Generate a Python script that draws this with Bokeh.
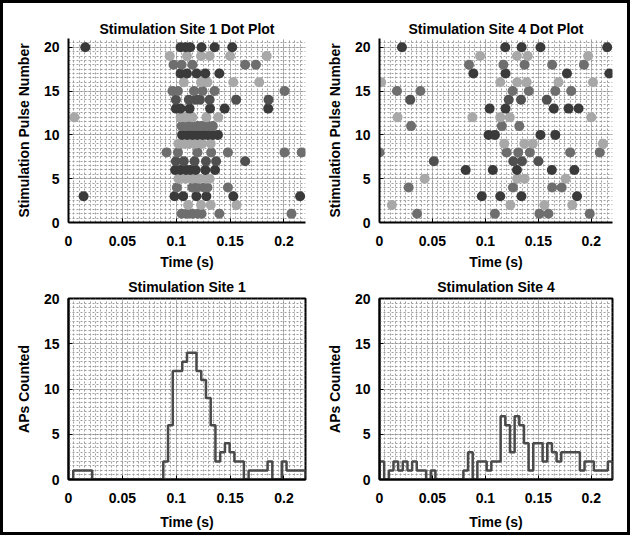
import numpy as np
from bokeh.plotting import figure
from bokeh.layouts import column, row
from bokeh.models import FixedTicker, Range1d, NumeralTickFormatter
from bokeh.embed import file_html
from bokeh.resources import INLINE

# ---------------- data ----------------
# spike times (s) for each stimulation pulse (index 0 -> pulse 1)
site1_times = [
    [0.105, 0.110, 0.115, 0.120, 0.1235, 0.140, 0.207],            # 1
    [0.111, 0.123, 0.132, 0.156],                                   # 2
    [0.014, 0.0984, 0.1064, 0.1187, 0.128, 0.153, 0.215],           # 3
    [0.1006, 0.115, 0.1197, 0.126, 0.129, 0.148],                   # 4
    [0.102, 0.1086, 0.115, 0.121, 0.1276, 0.131],                   # 5
    [0.099, 0.104, 0.109, 0.113, 0.118, 0.127, 0.136],              # 6
    [0.0997, 0.107, 0.117, 0.1276, 0.137, 0.164],                   # 7
    [0.091, 0.1016, 0.1197, 0.1324, 0.148, 0.2006, 0.2165],         # 8
    [0.102, 0.107, 0.112, 0.118, 0.124, 0.132],                     # 9
    [0.1054, 0.1102, 0.115, 0.1197, 0.1245, 0.1292, 0.134, 0.1387], # 10
    [0.105, 0.110, 0.115, 0.120, 0.124, 0.129, 0.134],              # 11
    [0.0054, 0.104, 0.1086, 0.115, 0.128, 0.139],                   # 12
    [0.0997, 0.104, 0.1124, 0.1314, 0.145, 0.1854],                 # 13
    [0.0997, 0.1117, 0.118, 0.122, 0.131, 0.1556, 0.1857],          # 14
    [0.0965, 0.1016, 0.1165, 0.1244, 0.1356, 0.2006],               # 15
    [0.107, 0.123, 0.129, 0.153, 0.177],                            # 16
    [0.104, 0.110, 0.119, 0.127, 0.140],                            # 17
    [0.0975, 0.105, 0.115, 0.164, 0.174],                           # 18
    [0.094, 0.110, 0.123, 0.131, 0.150, 0.184],                     # 19
    [0.0156, 0.104, 0.1086, 0.113, 0.1235, 0.1356, 0.152],          # 20
]
site4_times = [
    [0.0355, 0.109, 0.151, 0.1595, 0.1985],                         # 1
    [0.0117, 0.1235, 0.1557, 0.182],                                # 2
    [0.0966, 0.114, 0.134, 0.1865],                                 # 3
    [0.0275, 0.126, 0.163, 0.172],                                  # 4
    [0.0427, 0.130, 0.137, 0.1757],                                 # 5
    [0.0814, 0.107, 0.1298, 0.1627, 0.184],                         # 6
    [0.0513, 0.1263, 0.1345, 0.150],                                # 7
    [0.0, 0.120, 0.131, 0.142, 0.180, 0.208],                       # 8
    [0.1178, 0.1368, 0.1447, 0.211],                                # 9
    [0.103, 0.109, 0.152, 0.166],                                   # 10
    [0.0298, 0.1155, 0.132],                                        # 11
    [0.017, 0.0877, 0.114, 0.123, 0.200],                           # 12
    [0.104, 0.119, 0.1646, 0.1785, 0.188],                          # 13
    [0.029, 0.122, 0.1336, 0.158],                                  # 14
    [0.0165, 0.0386, 0.1257, 0.141, 0.166, 0.181],                  # 15
    [0.0016, 0.114, 0.130, 0.139, 0.169, 0.2016],                   # 16
    [0.0886, 0.119, 0.177, 0.217],                                  # 17
    [0.0845, 0.117, 0.137, 0.163, 0.193],                           # 18
    [0.095, 0.1298, 0.140, 0.197],                                  # 19
    [0.0212, 0.1187, 0.1342, 0.152, 0.215],                         # 20
]

# histogram: 50 bins over 0 - 0.22 s
hist_range = (0.0, 0.22)
hist_nbins = 50
site1_counts = [0, 1, 1, 1, 1, 0, 0, 0, 0, 0,
                0, 0, 0, 0, 0, 0, 0, 0, 0, 0,
                2, 6, 12, 12, 13, 14, 14, 12, 11, 9,
                6, 2, 3, 4, 3, 2, 2, 0, 1, 1,
                1, 1, 2, 0, 0, 2, 1, 1, 1, 1]
site4_counts = [2, 0, 1, 2, 1, 2, 1, 2, 1, 1,
                0, 1, 0, 0, 0, 0, 0, 0, 1, 3,
                0, 2, 2, 1, 2, 2, 7, 6, 3, 7,
                6, 4, 1, 4, 4, 2, 4, 3, 2, 3,
                3, 3, 3, 1, 2, 2, 1, 1, 1, 2]

x_ticks = [0, 0.05, 0.1, 0.15, 0.2]
y_ticks = [0, 5, 10, 15, 20]

# ---------------- style ----------------
FONT = "Liberation Sans"
pulse_shades = ["#6e6e6e", "#a8a8a8", "#3a3a3a", "#6e6e6e", "#a8a8a8", "#3a3a3a", "#505050"]
HIST_COLOR = "#4a4a4a"


def base_fig(title, ylab, ymax, w, h, bl, br, bt, bb, box, title_offset,
             title_standoff, x_lab_standoff):
    p = figure(width=w, height=h, output_backend="svg", toolbar_location=None,
               x_range=Range1d(0, 0.22), y_range=Range1d(0, ymax),
               min_border_left=bl, min_border_right=br,
               min_border_top=bt, min_border_bottom=bb)
    p.background_fill_color = "white"
    p.border_fill_color = "white"
    p.title.text = title
    p.title.align = "center"
    p.title.text_font = FONT
    p.title.text_font_size = "14px"
    p.title.text_font_style = "bold"
    p.title.text_color = "black"
    p.title.standoff = title_standoff
    p.title.offset = title_offset

    p.xaxis.ticker = FixedTicker(ticks=x_ticks, minor_ticks=list(np.arange(0, 0.2201, 0.005)))
    p.yaxis.ticker = FixedTicker(ticks=y_ticks, minor_ticks=list(np.arange(0, ymax + 0.01, 0.5)))
    p.xaxis.formatter = NumeralTickFormatter(format="0.[00]")
    p.xaxis.axis_label = "Time (s)"
    p.yaxis.axis_label = ylab
    for ax in (p.xaxis[0], p.yaxis[0]):
        ax.axis_line_width = 2
        ax.axis_line_color = "black"
        ax.major_tick_in = 4
        ax.major_tick_out = 0
        ax.major_tick_line_width = 1
        ax.minor_tick_line_color = None
        ax.major_label_text_font = FONT
        ax.major_label_text_font_size = "14px"
        ax.major_label_text_font_style = "bold"
        ax.major_label_text_color = "black"
        ax.axis_label_text_font = FONT
        ax.axis_label_text_font_size = "14px"
        ax.axis_label_text_font_style = "bold"
        ax.axis_label_text_color = "black"
    p.xaxis.major_label_standoff = 9
    p.xaxis.axis_label_standoff = x_lab_standoff
    p.yaxis.major_label_standoff = 5
    p.yaxis.axis_label_standoff = 9

    for g in (p.xgrid[0], p.ygrid[0]):
        g.grid_line_color = "#8a8a8a"
        g.grid_line_dash = "1 1"
        g.grid_line_width = 1
        g.minor_grid_line_color = "#9e9e9e"
        g.minor_grid_line_dash = "2 2"
        g.minor_grid_line_width = 1

    if box:
        p.outline_line_color = "black"
        p.outline_line_width = 2
    else:
        p.outline_line_color = None
    return p


def dot_plot(p, times):
    for i, ts in enumerate(times):
        pulse = i + 1
        p.scatter(ts, [pulse] * len(ts), size=10, marker="circle",
                  fill_color=pulse_shades[i % 7], line_color=None)


def stairs(p, counts):
    edges = np.linspace(hist_range[0], hist_range[1], hist_nbins + 1)
    xs = [edges[0]]
    ys = [0]
    for k, c in enumerate(counts):
        xs += [edges[k], edges[k + 1]]
        ys += [c, c]
    xs.append(edges[-1])
    ys.append(0)
    p.line(xs, ys, line_color=HIST_COLOR, line_width=2.5)


p1 = base_fig("Stimulation Site 1 Dot Plot", "Stimulation Pulse Number", 21,
              320, 269, 65, 18, 35, 47, False, -15, 3, 5)
dot_plot(p1, site1_times)
p2 = base_fig("Stimulation Site 4 Dot Plot", "Stimulation Pulse Number", 21,
              304, 269, 52, 15, 35, 47, False, -17, 3, 5)
dot_plot(p2, site4_times)
p3 = base_fig("Stimulation Site 1", "APs Counted", 20,
              320, 260, 65, 18, 26, 50, True, 0, 7, 8)
stairs(p3, site1_counts)
p4 = base_fig("Stimulation Site 4", "APs Counted", 20,
              304, 260, 52, 15, 26, 50, True, 0, 7, 8)
stairs(p4, site4_counts)

layout = column(row(p1, p2, spacing=0), row(p3, p4, spacing=0), spacing=0,
                styles={"border": "3px solid black", "background-color": "white",
                        "margin-bottom": "-12px"})

open("out.html", "w").write(file_html(layout, INLINE))
